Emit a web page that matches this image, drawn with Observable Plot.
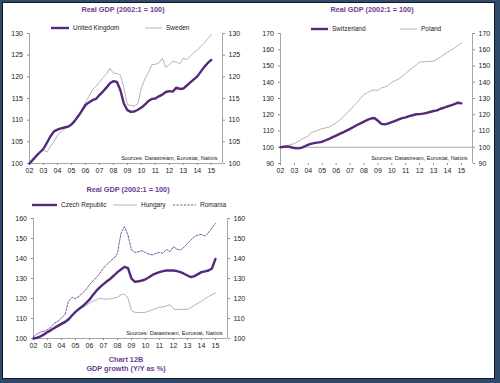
<!DOCTYPE html>
<html><head><meta charset="utf-8">
<script src="https://cdn.jsdelivr.net/npm/d3@7"></script>
<script src="https://cdn.jsdelivr.net/npm/@observablehq/plot@0.6"></script>
<style>
html,body{margin:0;padding:0;background:#fff;}
#page{position:relative;width:500px;height:383px;overflow:hidden;font-family:"Liberation Sans",Arial,sans-serif;background:#fff;}
.title{position:absolute;color:#6e3a94;font-weight:bold;font-size:7.3px;line-height:9px;white-space:nowrap;transform:translateX(-50%);}
.leg{position:absolute;font-size:6.5px;line-height:8px;color:#222;white-space:nowrap;}
#frame{position:absolute;left:0;top:0;width:500px;height:383px;box-sizing:border-box;border-style:solid;border-color:#2f4a6d;border-width:2px 5px 4px 2px;pointer-events:none;}
#frame div{position:absolute;inset:0;border:1px solid #101820;}
</style>
</head><body>
<div id="page"></div>
<script>
// ---- data (quarterly, 2002Q1 .. 2015Q1) ----
const quarters = d3.range(53).map(i => 2002 + i / 4);
const yearTicks = d3.range(2002, 2016);

const unitedKingdom = [100.0,100.9,101.8,102.6, 103.4,104.8,106.3,107.4, 107.8,108.1,108.3,108.5,
  109.0,109.9,111.0,112.2, 113.5,114.1,114.6,114.9, 115.8,116.6,117.5,118.5, 119.0,118.8,116.9,113.8,
  112.3,111.9,112.0,112.4, 112.9,113.6,114.4,114.9, 115.0,115.5,115.9,116.5, 116.7,116.6,117.5,117.2,
  117.3,118.0,118.7,119.4, 120.1,121.2,122.3,123.2, 123.9];
const sweden = [100.0,100.9,101.8,102.6, 103.0,102.7,104.0,105.0, 106.5,107.3,108.0,108.4,
  109.3,110.0,111.0,112.2, 114.0,115.5,117.0,117.8, 118.8,119.8,120.6,122.0, 120.8,120.8,120.4,117.5,
  113.6,113.4,113.2,113.8, 117.5,119.5,121.0,122.8, 122.9,123.2,124.3,122.2, 122.8,123.6,123.4,123.0,
  124.3,124.0,124.8,125.6, 126.2,127.0,127.8,128.8, 129.7];
const switzerland = [100.0,100.3,100.5,100.0, 99.5,99.3,99.6,100.6, 101.6,102.2,102.7,103.0,
  103.4,104.3,105.2,106.2, 107.2,108.2,109.2,110.2, 111.3,112.5,113.7,114.7, 115.8,116.8,117.7,118.0,
  116.3,114.4,114.1,114.7, 115.5,116.3,117.1,117.9, 118.4,119.2,119.7,120.3, 120.4,120.7,121.1,121.7,
  122.3,122.7,123.7,124.3, 125.2,125.8,126.5,127.4, 127.0];
const poland = [100.0,100.5,101.0,101.7, 102.3,103.5,104.8,105.8, 107.0,109.3,109.6,110.8,
  111.5,111.9,112.5,113.7, 115.0,116.6,118.5,120.8, 123.0,125.3,127.5,130.0, 132.5,133.6,134.7,135.2,
  135.0,136.5,137.0,138.0, 140.0,141.0,142.0,143.8, 145.5,147.2,149.0,150.6, 152.5,152.6,152.7,152.8,
  153.0,154.2,155.5,157.0, 158.5,159.8,161.0,162.6, 164.3];
const czechRepublic = [100.0,100.3,101.0,102.0, 103.2,104.2,105.3,106.3, 107.3,108.2,109.5,111.5,
  113.3,114.8,116.1,117.7, 119.4,121.8,123.9,125.7, 127.2,128.6,129.9,131.5, 133.2,134.5,135.8,135.2,
  129.9,128.3,128.6,129.0, 129.6,130.6,131.8,132.6, 133.2,133.7,134.0,134.0, 134.0,133.7,133.2,132.4,
  131.5,130.7,131.2,132.2, 133.2,133.6,134.0,135.0, 139.8];
const hungary = [100.3,100.9,101.6,102.5, 103.6,104.6,105.7,106.8, 107.8,109.0,110.3,111.8,
  113.3,114.3,115.3,116.5, 117.6,118.6,119.4,120.2, 119.7,119.6,119.9,120.2, 120.6,121.9,122.2,120.2,
  113.9,113.1,112.9,113.0, 113.1,113.7,114.4,115.0, 115.6,115.8,116.3,116.9, 114.8,114.4,114.6,114.5,
  114.6,115.5,116.6,117.6, 118.6,119.8,121.0,121.9, 122.7];
const romania = [100.8,102.3,103.2,103.6, 104.5,105.6,107.8,108.6, 110.3,111.9,118.6,120.7,
  119.9,121.1,122.7,124.4, 126.9,128.9,130.5,132.7, 135.2,137.1,138.8,140.1, 142.6,152.6,155.9,151.7,
  144.3,143.0,143.4,143.9, 143.0,142.1,141.8,142.6, 143.0,142.6,144.6,143.4, 145.9,144.6,144.3,145.6,
  147.6,149.3,150.9,151.7, 152.1,151.2,152.9,155.4, 157.5];

const titleText = "Real GDP (2002:1 = 100)";
const sourceText = "Sources: Datastream, Eurostat, Natixis";
const captionLines = ["Chart 12B", "GDP growth (Y/Y as %)"];

// ---- styles ----
const PURPLE = "#55287b";
const GREY = "#b4b4b4";
const AXIS = "#8f8f8f";
const FONT = "'Liberation Sans', Arial, sans-serif";

const page = document.getElementById("page");

function el(tag, cls, txt, css) {
  const e = document.createElement(tag);
  if (cls) e.className = cls;
  if (txt != null) e.textContent = txt;
  Object.assign(e.style, css || {});
  page.appendChild(e);
  return e;
}

function legendItem(x1, x2, y, label, s) {
  const ns = "http://www.w3.org/2000/svg";
  const svg = document.createElementNS(ns, "svg");
  svg.setAttribute("width", x2 - x1 + 2);
  svg.setAttribute("height", 6);
  svg.style.position = "absolute";
  svg.style.left = (x1 - 1) + "px";
  svg.style.top = (y - 3) + "px";
  const ln = document.createElementNS(ns, "line");
  ln.setAttribute("x1", 1); ln.setAttribute("x2", x2 - x1 + 1);
  ln.setAttribute("y1", 3); ln.setAttribute("y2", 3);
  ln.setAttribute("stroke", s.stroke);
  ln.setAttribute("stroke-width", s.width);
  if (s.dash) ln.setAttribute("stroke-dasharray", s.dash);
  svg.appendChild(ln);
  page.appendChild(svg);
  el("div", "leg", label, {left: (x2 + 4) + "px", top: (y - 4) + "px"});
}

function panel(o) {
  const data = quarters.map((q, i) => {
    const row = {q};
    o.series.forEach(s => row[s.key] = s.values[i]);
    return row;
  });
  const chart = Plot.plot({
    width: o.width, height: o.height,
    marginLeft: o.ml, marginRight: o.mr, marginTop: o.mt, marginBottom: o.mb,
    x: {domain: o.xDomain, label: null},
    y: {domain: o.yDomain, label: null},
    style: {fontFamily: FONT, fontSize: "7px", color: "#222", background: "transparent", overflow: "visible"},
    marks: [
      Plot.axisY({anchor: "left", label: null, ticks: o.yTicks, tickSize: 2, tickPadding: 4.5, stroke: AXIS, fontSize: 7, fill: "#222"}),
      Plot.axisY({anchor: "right", label: null, ticks: o.yTicks, tickSize: 2, tickPadding: 4, stroke: AXIS, fontSize: 7, fill: "#222"}),
      Plot.axisX({label: null, ticks: yearTicks, tickFormat: d => String(d % 100).padStart(2, "0"), tickSize: 2, tickPadding: 3, stroke: AXIS, fontSize: 7, fill: "#222"}),
      Plot.ruleX([o.xDomain[0], o.xDomain[1]], {stroke: AXIS, strokeWidth: 0.8}),
      o.baseRule != null ? Plot.ruleY([o.baseRule], {stroke: AXIS, strokeWidth: 0.8}) : null,
      ...o.series.map(s => Plot.lineY(data, {x: "q", y: s.key, stroke: s.stroke, strokeWidth: s.width,
        strokeDasharray: s.dash, curve: "linear"})),
      Plot.text([sourceText], {frameAnchor: "bottom-right", dx: o.srcDx, dy: o.srcDy, fontSize: 5.6, fill: "#222", textAnchor: "end"})
    ]
  });
  chart.style.position = "absolute";
  chart.style.left = o.left + "px";
  chart.style.top = o.top + "px";
  page.appendChild(chart);
}

const sUK = {key: "uk", values: unitedKingdom, stroke: PURPLE, width: 2.4};
const sSE = {key: "se", values: sweden, stroke: GREY, width: 1};
const sCH = {key: "ch", values: switzerland, stroke: PURPLE, width: 2.4};
const sPL = {key: "pl", values: poland, stroke: GREY, width: 1};
const sCZ = {key: "cz", values: czechRepublic, stroke: PURPLE, width: 2.4};
const sHU = {key: "hu", values: hungary, stroke: GREY, width: 1};
const sRO = {key: "ro", values: romania, stroke: "#6e4a90", width: 0.9, dash: "2.2,1.4"};

// Panel 1
panel({left: 0, top: 0, width: 250, height: 185, ml: 29, mr: 28, mt: 33, mb: 22,
  xDomain: [2002, 2015.8], yDomain: [100, 130], yTicks: d3.range(100, 131, 5),
  baseRule: 100, series: [sSE, sUK], srcDx: -5, srcDy: -4});
el("div", "title", titleText, {left: "123px", top: "4.5px"});
legendItem(51, 69, 28, "United Kingdom", sUK);
legendItem(145, 162, 28, "Sweden", sSE);

// Panel 2
panel({left: 250, top: 0, width: 250, height: 185, ml: 30, mr: 28, mt: 33, mb: 22,
  xDomain: [2002, 2015.8], yDomain: [90, 170], yTicks: d3.range(90, 171, 10),
  baseRule: 100, series: [sPL, sCH], srcDx: -5, srcDy: -4});
el("div", "title", titleText, {left: "372px", top: "4.5px"});
legendItem(311, 328, 29, "Switzerland", sCH);
legendItem(400, 417, 29, "Poland", sPL);

// Panel 3
panel({left: 0, top: 180, width: 250, height: 180, ml: 33, mr: 23, mt: 38, mb: 22,
  xDomain: [2002, 2015.86], yDomain: [100, 160], yTicks: d3.range(100, 161, 10),
  baseRule: 100, series: [sHU, sRO, sCZ], srcDx: -5, srcDy: -4});
el("div", "title", titleText, {left: "128px", top: "184.5px"});
legendItem(32, 57, 205, "Czech Republic", sCZ);
legendItem(113, 137, 205, "Hungary", sHU);
legendItem(173, 196, 205, "Romania", sRO);
el("div", "title", captionLines[0], {left: "126px", top: "354.5px"});
el("div", "title", captionLines[1], {left: "126px", top: "363.5px"});

// frame
const fr = el("div", null, null, {});
fr.id = "frame";
fr.appendChild(document.createElement("div"));
</script>
</body></html>
